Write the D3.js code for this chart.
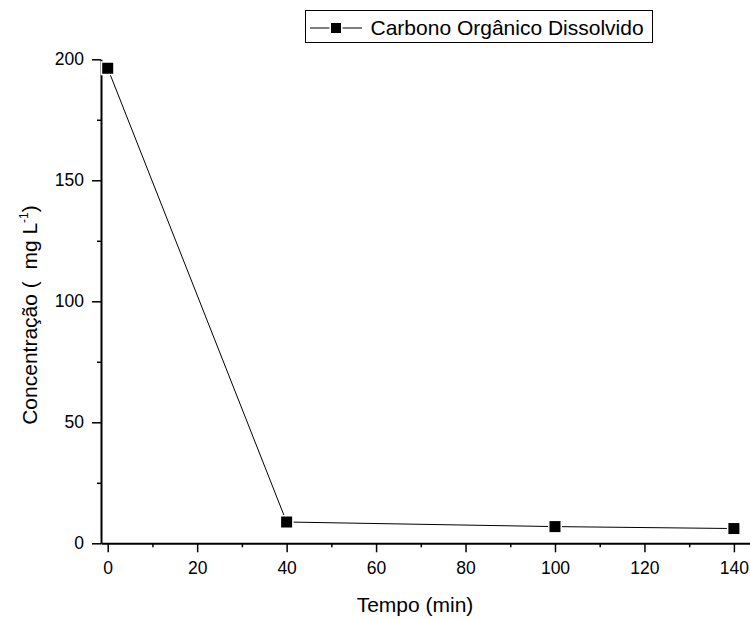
<!DOCTYPE html>
<html lang="pt">
  <head>
    <meta charset="utf-8">
    <script src="https://d3js.org/d3.v7.min.js"></script>
    <style>
      body { margin: 0; background: #fff; }
      text { font-family: "Liberation Sans", Arial, sans-serif; fill: #000; white-space: pre; }
    </style>
  </head>
  <body>
    <svg width="750" height="619"></svg>
    <script>
      // data
      var tempo = [0, 40, 100, 140];
      var cod = [196.3, 8.8, 6.9, 6.1];
      var xTicks = [0, 20, 40, 60, 80, 100, 120, 140];
      var yTicks = [0, 50, 100, 150, 200];
      var serieNome = "Carbono Orgânico Dissolvido";

      var svg = d3.select("svg");

      var x = d3.scaleLinear().domain([-1.5, 143.6]).range([101, 750]);
      var y = d3.scaleLinear().domain([0, 200]).range([543.3, 59.3]);

      // minor ticks
      svg.append("g")
        .attr("transform", "translate(0,543.3)")
        .call(d3.axisBottom(x).tickValues(d3.range(10, 141, 20)).tickSize(4).tickFormat(""))
        .call(function(g) { g.select(".domain").remove(); })
        .selectAll("line").attr("stroke-width", 1.5);
      svg.append("g")
        .attr("transform", "translate(101,0)")
        .call(d3.axisLeft(y).tickValues(d3.range(25, 200, 50)).tickSize(4).tickFormat(""))
        .call(function(g) { g.select(".domain").remove(); })
        .selectAll("line").attr("stroke-width", 1.5);

      // main axes
      var xAxis = svg.append("g")
        .attr("transform", "translate(0,543.3)")
        .call(d3.axisBottom(x).tickValues(xTicks).tickSize(9).tickSizeOuter(0).tickPadding(9));
      var yAxis = svg.append("g")
        .attr("transform", "translate(101,0)")
        .call(d3.axisLeft(y).tickValues(yTicks).tickSize(9).tickSizeOuter(0).tickPadding(8));
      [xAxis, yAxis].forEach(function(a) {
        a.select(".domain").attr("stroke-width", 2);
        a.selectAll(".tick line").attr("stroke-width", 1.5);
        a.selectAll("text").style("font-size", "17.5px").style("font-family", "Liberation Sans, Arial, sans-serif");
      });

      // line
      var line = d3.line()
        .x(function(d, i) { return x(tempo[i]); })
        .y(function(d) { return y(d); });
      svg.append("path")
        .datum(cod)
        .attr("d", line)
        .attr("fill", "none")
        .attr("stroke", "#000")
        .attr("stroke-width", 1);

      // markers (white halo gives the gap around the squares)
      svg.append("g")
        .selectAll("rect")
        .data(cod)
        .enter().append("rect")
          .attr("x", function(d, i) { return x(tempo[i]) - 5.5; })
          .attr("y", function(d) { return y(d) - 5.5; })
          .attr("width", 11)
          .attr("height", 11)
          .attr("fill", "#000")
          .attr("stroke", "#fff")
          .attr("stroke-width", 3)
          .attr("paint-order", "stroke");

      // axis titles
      svg.append("text")
        .attr("x", 415)
        .attr("y", 612)
        .attr("text-anchor", "middle")
        .style("font-size", "21px")
        .text("Tempo (min)");

      var yl = svg.append("text")
        .attr("transform", "translate(37,315) rotate(-90)")
        .attr("text-anchor", "middle")
        .style("font-size", "21px");
      yl.append("tspan").text("Concentração (  mg L");
      yl.append("tspan").attr("dy", -9).style("font-size", "12px").text("-1");
      yl.append("tspan").attr("dy", 9).text(")");

      // legend
      var leg = svg.append("g");
      leg.append("rect")
        .attr("x", 305.5).attr("y", 10.5)
        .attr("width", 347).attr("height", 32)
        .attr("fill", "#fff").attr("stroke", "#000").attr("stroke-width", 1);
      leg.append("line")
        .attr("x1", 310).attr("x2", 362).attr("y1", 28).attr("y2", 28)
        .attr("stroke", "#000").attr("stroke-width", 1);
      leg.append("rect")
        .attr("x", 331).attr("y", 23)
        .attr("width", 10).attr("height", 10)
        .attr("fill", "#000").attr("stroke", "#fff").attr("stroke-width", 3)
        .attr("paint-order", "stroke");
      leg.append("text")
        .attr("x", 370.5).attr("y", 35)
        .style("font-size", "21px")
        .text(serieNome);
    </script>
  </body>
</html>
